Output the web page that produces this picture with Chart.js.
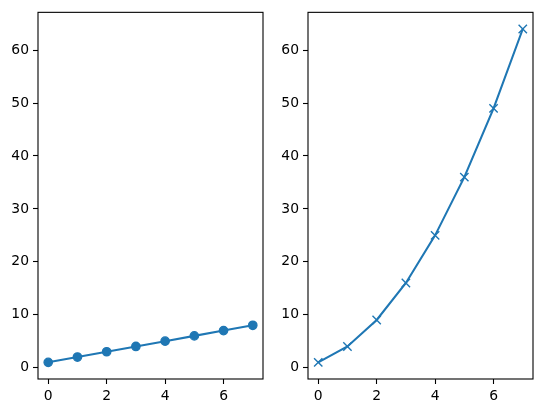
<!DOCTYPE html>
<html lang="en">
<head>
    <meta charset="UTF-8">
    <title>Two panels</title>
    <script src="https://cdn.jsdelivr.net/npm/chart.js"></script>
    <style>
        html, body { margin: 0; padding: 0; background: #fff; }
        .panel { position: absolute; top: 0; height: 413px; }
        #p1 { left: 0; width: 271px; }
        #p2 { left: 271px; width: 272px; }
    </style>
</head>
<body>
    <div class="panel" id="p1"><canvas id="left_chart"></canvas></div>
    <div class="panel" id="p2"><canvas id="right_chart"></canvas></div>

<script>
// data
var xValues = [0, 1, 2, 3, 4, 5, 6, 7];
var leftValues = [1, 2, 3, 4, 5, 6, 7, 8];
var rightValues = [1, 4, 9, 16, 25, 36, 49, 64];
var xTicks = [0, 2, 4, 6];
var yTicks = [0, 10, 20, 30, 40, 50, 60];

var xMin = -0.35, xMax = 7.35;
var yMin = -2.15, yMax = 67.15;

var blue = '#1f77b4';

// matplotlib style box round the plot area
var frame = {
    id: 'frame',
    afterDraw: function (chart) {
        var a = chart.chartArea, ctx = chart.ctx;
        ctx.save();
        ctx.strokeStyle = '#000';
        ctx.lineWidth = 1.1;
        ctx.strokeRect(a.left, a.top, a.right - a.left, a.bottom - a.top);
        ctx.restore();
    }
};

function makeTicks(values) {
    return function (scale) {
        scale.ticks = values.map(v => ({ value: v }));
    };
}

function MakePanel(canvasId, yValues, pointStyle, radius, yWidth, padRight) {
    var points = xValues.map((x, i) => ({ x: x, y: yValues[i] }));
    var tickFont = { family: 'DejaVu Sans', size: 13.9 };

    new Chart(document.getElementById(canvasId), {
        type: 'line',
        data: {
            datasets: [{
                data: points,
                borderColor: blue,
                backgroundColor: blue,
                borderWidth: 2.1,
                pointStyle: pointStyle,
                pointRadius: radius,
                pointBorderWidth: pointStyle == 'circle' ? 1.3 : 1.4,
                pointBorderColor: blue,
                pointBackgroundColor: blue,
                tension: 0
            }]
        },
        options: {
            animation: false,
            responsive: true,
            maintainAspectRatio: false,
            layout: { padding: { top: 10, right: padRight, left: 0, bottom: 0 } },
            plugins: {
                legend: { display: false },
                tooltip: { enabled: false }
            },
            scales: {
                x: {
                    type: 'linear',
                    min: xMin,
                    max: xMax,
                    afterBuildTicks: makeTicks(xTicks),
                    afterFit: function (scale) { scale.height = 34; },
                    border: { display: false },
                    grid: { drawOnChartArea: false, drawTicks: true, tickLength: 5, tickColor: '#000', tickWidth: 1.1 },
                    ticks: { color: '#000', font: tickFont, padding: 4, maxRotation: 0, callback: v => String(v) }
                },
                y: {
                    type: 'linear',
                    min: yMin,
                    max: yMax,
                    afterBuildTicks: makeTicks(yTicks),
                    afterFit: function (scale) { scale.width = yWidth; },
                    border: { display: false },
                    grid: { drawOnChartArea: false, drawTicks: true, tickLength: 5, tickColor: '#000', tickWidth: 1.1 },
                    ticks: { color: '#000', font: tickFont, padding: 4, callback: v => String(v) }
                }
            }
        },
        plugins: [frame]
    });
}

MakePanel('left_chart', leftValues, 'circle', 4.2, 38, 8);
MakePanel('right_chart', rightValues, 'crossRot', 5.9, 37, 10);
</script>
</body>
</html>
